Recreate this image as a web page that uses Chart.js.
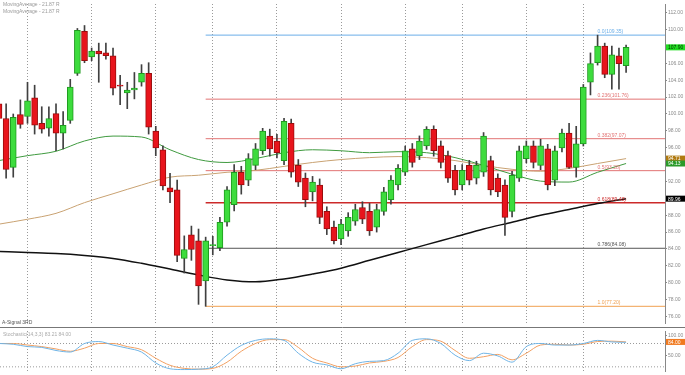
<!DOCTYPE html>
<html>
<head>
<meta charset="utf-8">
<script src="https://cdn.jsdelivr.net/npm/chart.js@4.4.1/dist/chart.umd.min.js"></script>
<style>
  html, body { margin: 0; padding: 0; background: #fff; }
  #wrap { position: relative; width: 685px; height: 375px; overflow: hidden; }
  #main { position: absolute; left: 0; top: 0; }
  #osc { position: absolute; left: 0; top: 327px; }
</style>
</head>
<body>
<div id="wrap">
  <canvas id="main" width="685" height="327"></canvas>
  <canvas id="osc" width="685" height="48"></canvas>
</div>
<script>
// ### candles, index 0 is the half cut bar on the left edge
const opens = [101.21, 99.47, 93.67, 99.93, 99.70, 101.91, 98.89, 98.31, 100.05, 97.73,
  99.24, 104.81, 109.79, 106.78, 107.47, 107.24, 106.90, 103.35, 102.49, 102.84,
  103.76, 104.81, 97.96, 95.76, 91.24, 91.00, 82.88, 85.67, 84.97, 80.21,
  84.40, 84.16, 87.17, 89.26, 93.09, 92.16, 93.90, 95.64, 97.38, 96.80,
  94.48, 98.89, 93.90, 92.40, 90.77, 91.58, 88.45, 86.59, 85.20, 86.13,
  87.29, 88.91, 88.45, 86.59, 88.45, 89.84, 91.58, 93.09, 95.87, 95.06,
  96.22, 98.19, 96.22, 95.06, 93.32, 91.58, 93.90, 92.40, 93.09, 94.48,
  92.40, 91.58, 88.45, 92.40, 94.71, 96.22, 93.90, 95.87, 92.16, 95.99,
  97.73, 93.67, 96.45, 103.76, 106.08, 108.05, 104.69, 106.90, 105.73]
const highs = [101.60, 101.21, 100.00, 101.67, 103.76, 103.41, 100.86, 100.86, 101.21, 100.28,
  104.11, 110.14, 110.49, 107.82, 108.40, 108.40, 107.82, 104.57, 103.76, 104.92,
  105.85, 106.08, 98.54, 96.22, 92.97, 92.16, 85.55, 86.71, 86.36, 85.40,
  85.50, 87.75, 91.40, 94.00, 93.80, 95.30, 96.50, 98.30, 98.20, 97.60,
  99.50, 99.40, 94.60, 93.00, 92.60, 92.30, 89.00, 87.30, 87.50, 88.30,
  89.30, 89.60, 89.40, 89.30, 91.30, 92.70, 94.00, 96.20, 96.50, 97.40,
  98.50, 98.60, 96.80, 95.60, 93.90, 94.00, 94.50, 94.40, 97.80, 95.00,
  92.90, 92.20, 93.20, 96.20, 96.80, 96.80, 97.00, 96.40, 96.20, 98.20,
  98.89, 98.54, 103.50, 107.24, 109.35, 108.40, 108.05, 107.82, 108.17]
const lows = [99.10, 92.40, 92.51, 98.31, 98.89, 97.62, 97.73, 97.38, 95.64, 95.87,
  98.89, 104.57, 106.08, 106.32, 103.76, 106.50, 102.26, 101.10, 100.63, 101.79,
  103.30, 97.62, 95.06, 91.00, 89.49, 82.50, 81.14, 82.65, 77.43, 77.20,
  83.30, 83.81, 86.70, 88.50, 90.50, 91.50, 93.40, 95.20, 95.00, 94.80,
  94.00, 92.50, 91.40, 89.00, 89.70, 87.00, 85.70, 84.60, 84.50, 85.50,
  86.80, 87.00, 85.60, 86.00, 88.00, 89.30, 91.00, 92.70, 93.70, 94.60,
  95.80, 95.00, 93.60, 91.90, 90.40, 91.00, 91.60, 91.70, 92.60, 90.40,
  90.20, 85.60, 87.80, 92.00, 94.20, 93.60, 93.40, 91.00, 91.50, 95.50,
  93.55, 92.51, 96.20, 102.26, 105.80, 104.30, 102.95, 102.95, 104.92]
const closes = [99.47, 93.44, 99.59, 98.77, 101.56, 98.66, 98.19, 99.47, 97.73, 98.66,
  103.18, 109.91, 106.32, 107.47, 107.13, 106.90, 103.07, 103.30, 102.84, 103.07,
  104.81, 98.43, 95.99, 91.47, 90.77, 83.23, 83.93, 83.93, 79.63, 84.97,
  84.50, 87.17, 91.00, 93.09, 91.58, 94.71, 95.87, 97.96, 95.87, 95.41,
  99.12, 93.09, 91.93, 89.84, 91.93, 87.75, 86.36, 84.97, 86.94, 87.75,
  88.68, 87.52, 86.13, 88.68, 90.77, 92.16, 93.55, 95.64, 94.25, 96.80,
  98.19, 95.64, 94.25, 92.40, 91.00, 93.32, 92.16, 93.90, 97.38, 91.00,
  90.77, 87.75, 92.74, 95.64, 96.22, 94.25, 96.22, 91.58, 95.64, 97.73,
  93.67, 96.45, 103.18, 105.97, 108.05, 104.69, 107.01, 105.97, 107.90]

// moving averages, read every 4 bars
const maIndex = [0, 4, 8, 12, 16, 20, 24, 28, 32, 36, 40, 44, 48, 52, 56, 60, 64, 68, 72, 76, 80, 84, 88]
const maFast = [94.48, 95.06, 95.58, 96.80, 97.38, 97.27, 95.76, 94.60, 94.25, 94.71, 95.41, 95.76,
  95.64, 95.41, 95.53, 95.41, 94.83, 93.90, 92.86, 92.04, 91.93, 93.09, 94.13]
const maMid = [86.94, 87.52, 88.22, 89.49, 90.54, 91.58, 92.51, 92.74, 93.09, 93.32, 93.79, 94.25,
  94.60, 94.83, 94.95, 94.83, 94.48, 93.90, 93.44, 93.21, 93.55, 94.13, 94.71]
const maSlow = [83.69, 83.58, 83.46, 83.23, 82.88, 82.30, 81.61, 80.91, 80.33, 80.10, 80.45, 81.03,
  81.72, 82.65, 83.58, 84.51, 85.43, 86.36, 87.17, 87.99, 88.68, 89.38, 89.96]

// fibonacci retracement from the low bar (29) to the high
const fibRatios = ['0.0', '0.236', '0.382', '0.5', '0.618', '0.786', '1.0']
const fibPrices = [109.35, 101.76, 97.07, 93.28, 89.48, 84.08, 77.20]
const fibColors = ['#6aaee8', '#e27474', '#e27474', '#e27474', '#cc2a2a', '#555555', '#f0a050']
const fibStart = 29

const priceTicks = [76, 78, 80, 82, 84, 86, 88, 90, 92, 94, 96, 98, 100, 102, 104, 106, 108, 110, 112]
const weekStarts = [4, 13, 22, 30, 39, 48, 57, 65, 74, 82]

// stochastic, read every 2 bars
const stochIndex = [0, 2, 4, 6, 8, 10, 12, 14, 16, 18, 20, 22, 24, 26, 28, 30, 32, 34, 36, 38, 40, 42, 44,
  46, 48, 50, 52, 54, 56, 58, 60, 62, 64, 66, 68, 70, 72, 74, 76, 78, 80, 82, 84, 86, 88]
const stochK = [80, 78, 72, 70, 62, 58, 80, 85, 76, 68, 58, 30, 15, 13, 14, 20, 50, 75, 88, 92, 88, 55, 32,
  25, 15, 28, 34, 36, 55, 88, 92, 80, 50, 36, 55, 48, 32, 72, 80, 76, 76, 80, 88, 84, 83]
const stochD = [80, 80, 76, 72, 66, 60, 68, 80, 80, 72, 64, 42, 24, 16, 14, 16, 32, 60, 80, 90, 90, 70, 42,
  30, 20, 22, 30, 34, 44, 72, 90, 86, 62, 42, 46, 52, 38, 55, 76, 78, 76, 78, 85, 86, 84]
const stochTicks = [100, 50]

const xMin = 0.14
const xMax = 93.46
const tiny = { family: '"Liberation Sans", Arial, sans-serif', size: 5 }

const candleUp = (i) => closes[i] >= opens[i]
const points = (xs, ys) => xs.map((x, i) => ({ x: x, y: ys[i] }))

function axisBox(ctx, chart, value, bg, fg, text) {
  let y = chart.scales.y.getPixelForValue(value)
  ctx.fillStyle = bg
  ctx.fillRect(chart.chartArea.right + 1, y - 3, 19, 6)
  ctx.fillStyle = fg
  ctx.textAlign = 'left'
  ctx.textBaseline = 'middle'
  ctx.fillText(text, chart.chartArea.right + 3, y + 0.5)
}

const mainOverlay = {
  id: 'mainOverlay',
  afterDatasetsDraw(chart) {
    const { ctx, scales: { x, y } } = chart
    ctx.save()
    ctx.font = '5px "Liberation Sans", Arial'
    ctx.textBaseline = 'bottom'
    fibPrices.forEach((p, i) => {
      ctx.fillStyle = fibColors[i]
      ctx.fillText(fibRatios[i] + '(' + p.toFixed(2) + ')', x.getPixelForValue(84), y.getPixelForValue(p) - 1)
    })
    ctx.fillStyle = '#9a9a9a'
    ctx.textBaseline = 'top'
    ctx.fillText('MovingAverage - 21.87 R', 3, 2)
    ctx.fillText('MovingAverage - 21.87 R', 3, 9)
    ctx.fillStyle = '#555'
    ctx.fillText('A-Signal 3RD', 2, 320)
    ctx.restore()
  },
  afterDraw(chart) {
    const ctx = chart.ctx
    ctx.save()
    ctx.font = '5px "Liberation Sans", Arial'
    axisBox(ctx, chart, closes[closes.length - 1], '#22dd22', '#003300', closes[closes.length - 1].toFixed(2))
    axisBox(ctx, chart, maMid[maMid.length - 1], '#b07a10', '#fff', maMid[maMid.length - 1].toFixed(2))
    axisBox(ctx, chart, maFast[maFast.length - 1], '#2a9a2a', '#fff', maFast[maFast.length - 1].toFixed(2))
    axisBox(ctx, chart, maSlow[maSlow.length - 1], '#000', '#fff', maSlow[maSlow.length - 1].toFixed(2))
    ctx.restore()
  }
}

const oscOverlay = {
  id: 'oscOverlay',
  afterDraw(chart) {
    const ctx = chart.ctx
    ctx.save()
    ctx.strokeStyle = '#777'
    ctx.lineWidth = 1
    ctx.beginPath()
    ctx.moveTo(0, 0.5)
    ctx.lineTo(685, 0.5)
    ctx.stroke()
    ctx.font = '5px "Liberation Sans", Arial'
    ctx.fillStyle = '#aaa'
    ctx.textBaseline = 'top'
    ctx.fillText('Stochastic(14,3,3) 83.21 84.00', 3, 5)
    axisBox(ctx, chart, stochD[stochD.length - 1], '#f07a20', '#fff', stochD[stochD.length - 1].toFixed(2))
    ctx.restore()
  }
}

const xAxis = {
  type: 'linear',
  min: xMin,
  max: xMax,
  offset: false,
  afterBuildTicks: (s) => { s.ticks = weekStarts.map((v) => ({ value: v })) },
  ticks: { display: false },
  grid: { color: '#9a9a9a', drawTicks: false, lineWidth: 1, offset: false },
  border: { display: false, dash: [1, 2] },
  afterFit: (s) => { s.height = 0 }
}

function yAxis(min, max, ticks) {
  return {
    position: 'right',
    min: min,
    max: max,
    afterBuildTicks: (s) => { s.ticks = ticks.map((v) => ({ value: v })) },
    ticks: { font: tiny, color: '#8a8a8a', padding: 1, autoSkip: false, callback: (v) => v.toFixed(2) },
    grid: { drawOnChartArea: false, tickLength: 2, color: '#888' },
    border: { color: '#888' },
    afterFit: (s) => { s.width = 20 }
  }
}

window.onload = function () {
  const wicks = highs.map((h, i) => ({ x: i, y: [lows[i], h] }))
  const bodies = opens.map((o, i) => ({ x: i, y: [o, closes[i]] }))

  const maLine = (data, color, width) => ({
    type: 'line', data: points(maIndex, data), borderColor: color, borderWidth: width,
    pointRadius: 0, cubicInterpolationMode: 'monotone', order: 2
  })
  const fibLines = fibPrices.map((p, i) => ({
    type: 'line', data: [{ x: fibStart, y: p }, { x: xMax, y: p }], borderColor: fibColors[i],
    borderWidth: i === 4 ? 1.5 : 1, pointRadius: 0, order: 3
  }))

  new Chart(document.getElementById('main'), {
    type: 'bar',
    data: {
      datasets: [
        { data: wicks, backgroundColor: '#404040', barThickness: 1, grouped: false, order: 1 },
        {
          data: bodies,
          backgroundColor: opens.map((o, i) => candleUp(i) ? '#3ddc3d' : '#e8141c'),
          borderColor: opens.map((o, i) => candleUp(i) ? '#1f9a1f' : '#9a0d0d'),
          borderWidth: 1, borderSkipped: false, barThickness: 6, minBarLength: 1, grouped: false, order: 0
        },
        maLine(maFast, '#3f9a3f', 1),
        maLine(maMid, '#c9a272', 1),
        maLine(maSlow, '#111111', 1.5),
        ...fibLines
      ]
    },
    options: {
      responsive: false,
      animation: false,
      layout: { padding: 0 },
      plugins: { legend: { display: false }, tooltip: { enabled: false } },
      scales: { x: xAxis, y: yAxis(75.22, 113.04, priceTicks) }
    },
    plugins: [mainOverlay]
  })

  const level = (v) => ({
    type: 'line', data: [{ x: xMin, y: v }, { x: xMax, y: v }], borderColor: '#9a9a9a',
    borderWidth: 1, borderDash: [1, 2], pointRadius: 0, order: 3
  })

  new Chart(document.getElementById('osc'), {
    type: 'line',
    data: {
      datasets: [
        { data: points(stochIndex, stochD), borderColor: '#f2a062', borderWidth: 1, pointRadius: 0, cubicInterpolationMode: 'monotone', order: 1 },
        { data: points(stochIndex, stochK), borderColor: '#6fb4e6', borderWidth: 1, pointRadius: 0, cubicInterpolationMode: 'monotone', order: 0 },
        level(80),
        level(20)
      ]
    },
    options: {
      responsive: false,
      animation: false,
      layout: { padding: 0 },
      plugins: { legend: { display: false }, tooltip: { enabled: false } },
      scales: { x: xAxis, y: yAxis(9.3, 112.1, stochTicks) }
    },
    plugins: [oscOverlay]
  })
}
</script>
</body>
</html>
